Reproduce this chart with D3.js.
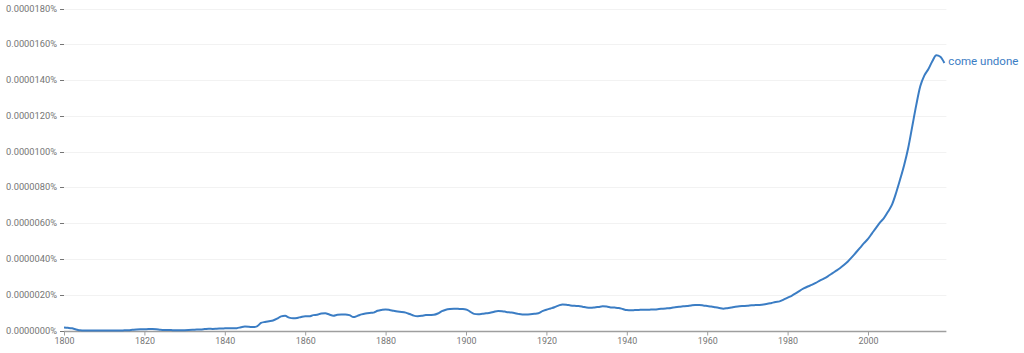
<!DOCTYPE html>
<html>
<head>
<meta charset="utf-8">
<script src="https://cdn.jsdelivr.net/npm/d3@7"></script>
<style>
  body { margin: 0; background: #fff; }
  text { font-family: Roboto, "Noto Sans", sans-serif; }
</style>
</head>
<body>
<script>
// "come undone" frequency, in units of 0.0000001%
const startYear = 1800;
const values = [
  1.7, 1.5, 1.2, 0.6, 0.1, 0.0, 0.0, 0.0, 0.0, 0.0,        // 1800s
  0.0, 0.0, 0.0, 0.0, 0.0, 0.1, 0.2, 0.4, 0.6, 0.7,        // 1810s
  0.7, 0.8, 0.8, 0.7, 0.4, 0.3, 0.3, 0.2, 0.1, 0.1,        // 1820s
  0.2, 0.3, 0.4, 0.5, 0.6, 0.8, 1.0, 0.9, 1.0, 1.1,        // 1830s
  1.2, 1.3, 1.2, 1.3, 1.8, 2.2, 2.1, 1.9, 2.3, 4.2,        // 1840s
  4.8, 5.2, 5.6, 6.6, 7.9, 8.2, 7.2, 6.8, 7.0, 7.6,        // 1850s
  8.0, 7.9, 8.6, 8.8, 9.5, 9.6, 8.9, 8.3, 8.8, 9.0,        // 1860s
  9.0, 8.6, 7.5, 8.2, 9.0, 9.5, 9.8, 10.0, 11.0, 11.5,     // 1870s
  11.8, 11.5, 11.0, 10.6, 10.4, 10.0, 9.2, 8.3, 8.0, 8.2,  // 1880s
  8.6, 8.7, 8.8, 9.5, 10.8, 11.6, 12.0, 12.2, 12.1, 12.0,  // 1890s
  11.8, 10.6, 9.3, 9.1, 9.3, 9.6, 9.9, 10.5, 10.9, 10.8,   // 1900s
  10.4, 10.1, 9.8, 9.3, 9.0, 9.0, 9.1, 9.3, 9.6, 10.8,     // 1910s
  11.6, 12.3, 13.0, 13.9, 14.6, 14.4, 14.0, 13.8, 13.7, 13.3, // 1920s
  12.8, 12.7, 12.9, 13.2, 13.5, 13.4, 12.9, 12.8, 12.6, 12.0, // 1930s
  11.4, 11.3, 11.4, 11.5, 11.6, 11.6, 11.7, 11.8, 12.0, 12.2, // 1940s
  12.4, 12.6, 13.0, 13.3, 13.5, 13.7, 14.0, 14.2, 14.2, 14.0, // 1950s
  13.7, 13.4, 13.0, 12.6, 12.2, 12.5, 12.9, 13.3, 13.6, 13.7, // 1960s
  13.8, 14.1, 14.2, 14.3, 14.5, 14.9, 15.4, 15.9, 16.3, 17.3, // 1970s
  18.4, 19.4, 20.7, 22.2, 23.5, 24.6, 25.5, 26.6, 27.9, 29.0, // 1980s
  30.3, 31.8, 33.3, 34.8, 36.6, 38.6, 41.0, 43.6, 46.2, 48.8, // 1990s
  51.2, 54.3, 57.4, 60.4, 63.0, 66.5, 70.5, 77.0, 84.5, 92.5, // 2000s
  102.0, 114.0, 126.0, 136.5, 142.5, 146.0, 150.5, 153.8, 153.0, 149.5 // 2010s
];
const seriesName = "come undone";
const yTicks = [0, 20, 40, 60, 80, 100, 120, 140, 160, 180];
const xTicks = [1800, 1820, 1840, 1860, 1880, 1900, 1920, 1940, 1960, 1980, 2000];

const w = 1024;
const h = 353;
const margin = { top: 8.5, right: 80, bottom: 22.5, left: 64 };

const data = values.map((v, i) => ({ year: startYear + i, value: v }));

const svg = d3.select("body")
  .append("svg")
  .attr("width", w)
  .attr("height", h);

const x_scale = d3.scaleLinear()
  .domain([1800, 2019])
  .range([margin.left, margin.left + 219 * 4.02]);

const y_scale = d3.scaleLinear()
  .domain([0, 180])
  .range([h - margin.bottom, margin.top]);

const x0 = x_scale.range()[0];
const x1 = x_scale.range()[1] + 2;

// gridlines
svg.append("g")
  .selectAll("line")
  .data(yTicks.slice(1))
  .enter()
  .append("line")
  .attr("x1", x0)
  .attr("x2", x1)
  .attr("y1", d => Math.round(y_scale(d)) + 0.5)
  .attr("y2", d => Math.round(y_scale(d)) + 0.5)
  .attr("stroke", "#f2f2f2");

// y axis labels with the little dash
const yAxis = svg.append("g").attr("class", "y axis");
yAxis.selectAll("text")
  .data(yTicks)
  .enter()
  .append("text")
  .attr("x", 57)
  .attr("y", d => y_scale(d) + 3)
  .attr("text-anchor", "end")
  .attr("font-size", "8.5px")
  .attr("fill", "#757575")
  .attr("textLength", 51)
  .attr("lengthAdjust", "spacingAndGlyphs")
  .text(d => (d / 1e7).toFixed(7) + "%");
yAxis.selectAll("line")
  .data(yTicks)
  .enter()
  .append("line")
  .attr("x1", 60)
  .attr("x2", 64)
  .attr("y1", d => Math.round(y_scale(d)) + 0.5)
  .attr("y2", d => Math.round(y_scale(d)) + 0.5)
  .attr("stroke", "#757575");

// x axis
const xAxis = svg.append("g")
  .attr("class", "x axis")
  .attr("transform", `translate(0,${Math.round(y_scale(0)) + 0.5})`)
  .call(d3.axisBottom(x_scale).tickValues(xTicks).tickFormat(d3.format("d")).tickSize(4).tickPadding(2).tickSizeOuter(0));
xAxis.select(".domain")
  .attr("d", `M${x0},0H${x1}`)
  .attr("stroke", "#9e9e9e")
  .attr("stroke-width", 1.5);
xAxis.selectAll(".tick line").attr("stroke", "#9e9e9e");
xAxis.selectAll(".tick text")
  .attr("font-size", "9.5px")
  .attr("font-family", "Roboto, sans-serif")
  .attr("fill", "#757575")
  .attr("textLength", 20)
  .attr("lengthAdjust", "spacingAndGlyphs");

// series
const line = d3.line()
  .x(d => x_scale(d.year))
  .y(d => y_scale(d.value))
  .curve(d3.curveMonotoneX);

svg.append("path")
  .datum(data)
  .attr("d", line)
  .attr("fill", "none")
  .attr("stroke", "#3b7dc4")
  .attr("stroke-width", 2)
  .attr("stroke-linejoin", "round");

const last = data[data.length - 1];
svg.append("text")
  .attr("x", x_scale(last.year) + 4)
  .attr("y", y_scale(last.value) + 1.5)
  .attr("font-size", "11px")
  .attr("fill", "#3b7dc4")
  .attr("textLength", 70)
  .attr("lengthAdjust", "spacingAndGlyphs")
  .text(seriesName);
</script>
</body>
</html>
